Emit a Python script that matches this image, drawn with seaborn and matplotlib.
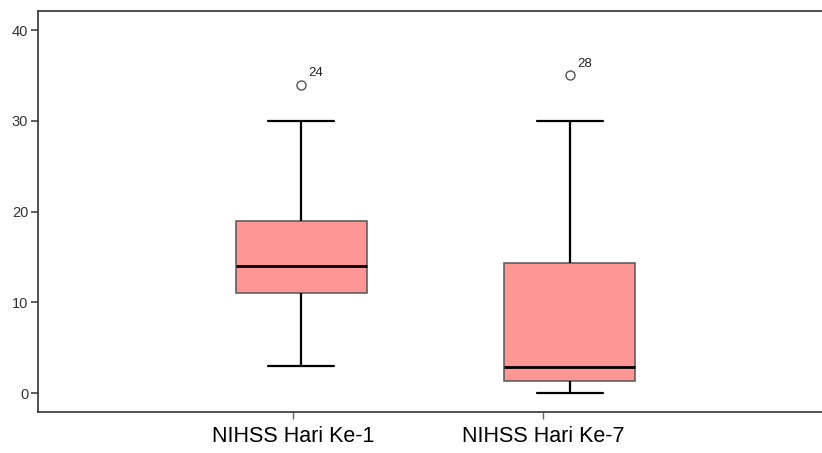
import matplotlib
matplotlib.use("Agg")
import matplotlib.pyplot as plt
import seaborn as sns
import pandas as pd

# ---- data ----
categories = ["NIHSS Hari Ke-1", "NIHSS Hari Ke-7"]
day1_values = [3, 8, 11, 12, 14, 16, 19, 30, 34]
day7_values = [0, 1, 1.4, 2, 2.85, 8, 14.35, 30, 35]
outlier_ids = ["24", "28"]
y_ticks = [0, 10, 20, 30, 40]

sns.set_theme(style="white")
plt.rcParams["font.family"] = ["Liberation Sans", "DejaVu Sans"]

df = pd.DataFrame({
    "group": [categories[0]] * len(day1_values) + [categories[1]] * len(day7_values),
    "value": day1_values + day7_values,
})

fig = plt.figure(figsize=(8.22, 4.53), dpi=100)
ax = fig.add_axes([0.0462, 0.0905, 0.9600, 0.8852])

sns.boxplot(
    data=df, x="group", y="value", order=categories, ax=ax,
    width=0.487, color="#FF9696", saturation=1, whis=1.5,
    boxprops=dict(facecolor="#FF9696", edgecolor="#555555", linewidth=1.1),
    whiskerprops=dict(color="black", linewidth=1.6),
    capprops=dict(color="black", linewidth=1.6),
    medianprops=dict(color="black", linewidth=2.0),
    flierprops=dict(marker="o", markersize=6.5, markerfacecolor="white",
                    markeredgecolor="#555555", markeredgewidth=1.0),
)

groups = [day1_values, day7_values]
for i, (vals, lab) in enumerate(zip(groups, outlier_ids)):
    ax.annotate(lab, xy=(i, max(vals)), xytext=(5, 4), textcoords="offset points",
                fontsize=9.5, color="#222222", ha="left", va="bottom")

# axis range chosen so that the right spine falls just beyond the canvas
ax.set_xlim(-0.978, 1.937 + 0.0062 * 822 / 269)
ax.set_ylim(-2.06, 42.1)
ax.set_yticks(y_ticks)
ax.set_yticklabels([str(t) for t in y_ticks], fontsize=10.5, color="#333333")
ax.set_xticks([-0.03, 0.90])
ax.set_xticklabels(categories, fontsize=15.5, color="black")
ax.set_xlabel("")
ax.set_ylabel("")

ax.tick_params(axis="y", direction="out", length=5, width=1.2, color="#444444", pad=2, left=True)
ax.tick_params(axis="x", direction="out", length=5, width=1.0, color="#666666", pad=5, bottom=True)

for side in ["left", "top", "bottom"]:
    ax.spines[side].set_visible(True)
    ax.spines[side].set_color("#333333")
    ax.spines[side].set_linewidth(1.2)
ax.spines["right"].set_visible(False)

fig.savefig("out.png", dpi=100, facecolor="white")
